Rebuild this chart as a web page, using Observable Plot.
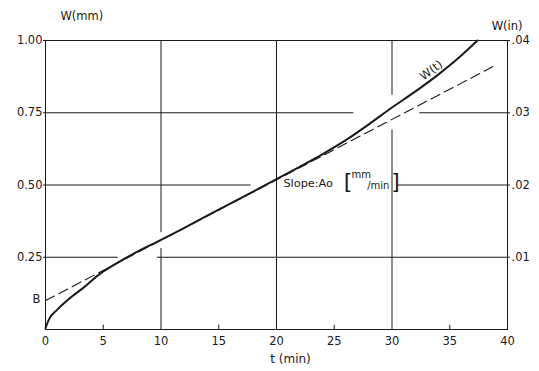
<!DOCTYPE html>
<html><head><meta charset="utf-8">
<script src="https://cdn.jsdelivr.net/npm/d3@7"></script>
<script src="https://cdn.jsdelivr.net/npm/@observablehq/plot@0.6"></script>
<style>body{margin:0;background:#fff;}</style>
</head><body><div id="chart"></div>
<script>
// Measured curve W(t)
const curveT = [0, 0.3, 1, 2, 3.3, 4.8, 6, 7.6, 10, 11.7, 15, 20, 22, 24, 26, 28, 30, 32, 34, 36, 37.4];
const curveW = [0.005, 0.035, 0.068, 0.105, 0.145, 0.195, 0.225, 0.262, 0.31, 0.345, 0.415, 0.52, 0.563, 0.607, 0.655, 0.71, 0.768, 0.823, 0.882, 0.948, 1.0];
// Tangent (dashed) line
const tangentT = [0, 39];
const tangentW = [0.10, 0.915];
// Ticks & labels
const xTicks = [0, 5, 10, 15, 20, 25, 30, 35, 40];
const minorXTicks = [5, 15, 25, 35];
const yTicks = [0.25, 0.5, 0.75, 1.0];
const leftLabels = ["0.25", "0.50", "0.75", "1.00"];
const rightLabels = [".01", ".02", ".03", ".04"];
// Grid line segments (with the gaps of the original)
const vGridT = [10, 10, 20, 30, 30];
const vGridFrom = [0, 0.335, 0, 0, 0.81];
const vGridTo = [0.28, 1, 1, 0.69, 1];
const hGridW = [0.25, 0.25, 0.5, 0.5, 0.75, 0.75];
const hGridFrom = [0, 9.7, 0, 30.5, 0, 32.4];
const hGridTo = [6.3, 40, 17.8, 40, 26.7, 40];

const curve = curveT.map((t, i) => ({t, w: curveW[i]}));
const tangent = tangentT.map((t, i) => ({t, w: tangentW[i]}));
const vGrid = vGridT.map((t, i) => ({t, y1: vGridFrom[i], y2: vGridTo[i]}));
const hGrid = hGridW.map((w, i) => ({w, x1: hGridFrom[i], x2: hGridTo[i]}));

const ink = "#1a1a1a";
const chart = Plot.plot({
  width: 539, height: 371,
  marginLeft: 45, marginRight: 32, marginTop: 40, marginBottom: 42,
  x: {domain: [0, 40]},
  y: {domain: [0, 1]},
  style: {fontFamily: "'DejaVu Sans', sans-serif", fontSize: "11.5px", color: ink, background: "#fff"},
  marks: [
    Plot.ruleX(vGrid, {x: "t", y1: "y1", y2: "y2", stroke: ink, strokeWidth: 1}),
    Plot.ruleY(hGrid, {y: "w", x1: "x1", x2: "x2", stroke: ink, strokeWidth: 1}),
    Plot.ruleX(minorXTicks, {x: d => d, y1: 0, y2: 0.015, stroke: ink}),
    Plot.frame({stroke: ink, strokeWidth: 1}),
    Plot.axisX({ticks: xTicks, tickSize: 0, tickPadding: 7, label: null, tickFormat: d => String(d)}),
    Plot.axisY({anchor: "left", ticks: yTicks, tickSize: 2, tickPadding: 1, label: null,
      tickFormat: d => leftLabels[yTicks.indexOf(d)]}),
    Plot.axisY({anchor: "right", ticks: yTicks, tickSize: 2, tickPadding: 2, label: null,
      tickFormat: d => rightLabels[yTicks.indexOf(d)]}),
    Plot.line(tangent, {x: "t", y: "w", stroke: ink, strokeWidth: 1.1, strokeDasharray: "10,5"}),
    Plot.line(curve, {x: "t", y: "w", stroke: ink, strokeWidth: 2, curve: "monotone-x"}),
    Plot.text(["W(t)"], {x: 33.4, y: 0.897, rotate: -37, fontSize: 11.5}),
    Plot.text(["B"], {x: 0, y: 0.104, dx: -5, textAnchor: "end", fontSize: 11.5}),
    Plot.text(["Slope:Ao"], {x: 20.6, y: 0.505, textAnchor: "start", fontSize: 11.3}),
    Plot.text(["["], {x: 26.2, y: 0.509, fontSize: 22, fill: ink}),
    Plot.text(["mm"], {x: 26.5, y: 0.536, textAnchor: "start", fontSize: 10}),
    Plot.text(["/min"], {x: 27.85, y: 0.497, textAnchor: "start", fontSize: 10}),
    Plot.text(["]"], {x: 30.3, y: 0.509, fontSize: 22, fill: ink}),
    Plot.text(["W(mm)"], {frameAnchor: "top-left", dx: 15, dy: -29, fontSize: 11.5}),
    Plot.text(["W(in)"], {frameAnchor: "top-right", dx: 15, dy: -19, fontSize: 11.5}),
    Plot.text(["t (min)"], {frameAnchor: "bottom", dx: 14, dy: 33, fontSize: 12})
  ]
});
document.getElementById("chart").appendChild(chart);
</script>
</body></html>
